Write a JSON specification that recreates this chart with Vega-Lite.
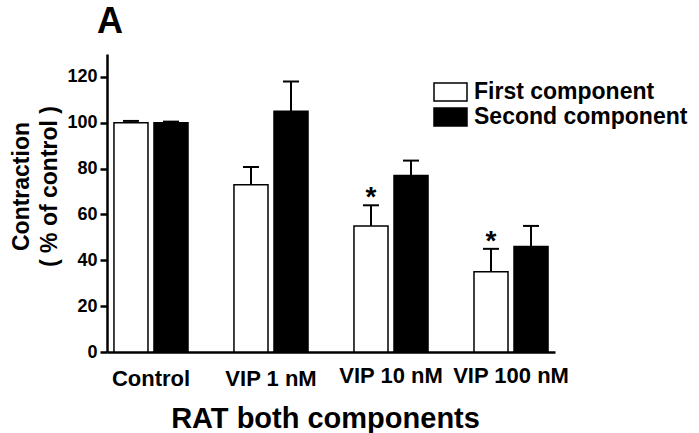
{
  "$schema": "https://vega.github.io/schema/vega-lite/v6.json",
  "width": 448,
  "height": 298,
  "autosize": {"type": "none"},
  "padding": {"left": 107, "top": 54, "right": 144, "bottom": 81},
  "background": "white",
  "config": {
    "font": "Liberation Sans",
    "view": {"stroke": null},
    "axisX": {
      "labelAngle": 0,
      "ticks": false,
      "domainWidth": 2.5,
      "domainColor": "black",
      "labelFontSize": 22,
      "labelFontWeight": "bold",
      "labelColor": "black",
      "titleFontSize": 29,
      "titleFontWeight": "bold",
      "titleColor": "black",
      "titlePadding": 15,
      "titleX": 218,
      "titleAlign": "center",
      "grid": false
    },
    "axisY": {
      "tickSize": 7,
      "tickWidth": 2.5,
      "tickColor": "black",
      "domainWidth": 2.5,
      "domainColor": "black",
      "labelFontSize": 18,
      "labelFontWeight": "bold",
      "labelColor": "black",
      "labelPadding": 3,
      "grid": false,
      "titleFontSize": 23,
      "titleFontWeight": "bold",
      "titleColor": "black",
      "titleX": -97,
      "titleY": 132,
      "titleBaseline": "top",
      "titleAlign": "center",
      "titleAngle": -90,
      "titleLineHeight": 28
    },
    "legend": {
      "orient": "none",
      "legendX": 326,
      "legendY": 27,
      "symbolType": "M-1,-0.55H1V0.55H-1Z",
      "symbolSize": 1089,
      "symbolStrokeColor": "black",
      "symbolStrokeWidth": 1.5,
      "labelFontSize": 23,
      "labelFontWeight": "bold",
      "labelColor": "black",
      "labelOffset": 6,
      "labelLimit": 400,
      "clipHeight": 22,
      "rowPadding": 2,
      "padding": 0
    }
  },
  "title": {"text": "A", "anchor": "start", "frame": "group", "fontSize": 36, "fontWeight": "bold", "color": "black", "dx": -10, "offset": -15, "baseline": "alphabetic"},
  "data": {
    "values": [
      {"group": "Control", "component": "First component", "value": 100, "upper": 100.8, "star": false},
      {"group": "Control", "component": "Second component", "value": 100, "upper": 100.5, "star": false},
      {"group": "VIP 1 nM", "component": "First component", "value": 73, "upper": 80.7, "star": false},
      {"group": "VIP 1 nM", "component": "Second component", "value": 105, "upper": 118, "star": false},
      {"group": "VIP 10 nM", "component": "First component", "value": 55, "upper": 64, "star": true},
      {"group": "VIP 10 nM", "component": "Second component", "value": 77, "upper": 83.5, "star": false},
      {"group": "VIP 100 nM", "component": "First component", "value": 35, "upper": 45, "star": true},
      {"group": "VIP 100 nM", "component": "Second component", "value": 46, "upper": 55, "star": false}
    ]
  },
  "encoding": {
    "x": {
      "field": "group",
      "type": "nominal",
      "sort": null,
      "title": "RAT both components",
      "scale": {"paddingInner": 0.383, "paddingOuter": 0.058},
      "axis": {"labelPadding": {"condition": {"test": "datum.value === 'VIP 10 nM' || datum.value === 'VIP 100 nM'", "value": 13}, "value": 16}}
    },
    "xOffset": {"field": "component", "type": "nominal", "scale": {"paddingInner": 0.15, "paddingOuter": 0}}
  },
  "layer": [
    {
      "mark": {"type": "rule", "stroke": "black", "strokeWidth": 2},
      "encoding": {
        "y": {"field": "value", "type": "quantitative", "scale": {"domain": [0, 130], "nice": false}, "title": ["Contraction", "( % of control )"], "axis": {"values": [0, 20, 40, 60, 80, 100, 120]}},
        "y2": {"field": "upper"}
      }
    },
    {
      "mark": {"type": "tick", "orient": "horizontal", "size": 16, "thickness": 2, "color": "black", "opacity": 1},
      "encoding": {
        "y": {"field": "upper", "type": "quantitative", "scale": {"domain": [0, 130], "nice": false}, "title": ["Contraction", "( % of control )"], "axis": {"values": [0, 20, 40, 60, 80, 100, 120]}}
      }
    },
    {
      "mark": {"type": "bar", "stroke": "black", "strokeWidth": 1.5, "opacity": 1},
      "encoding": {
        "y": {"field": "value", "type": "quantitative", "scale": {"domain": [0, 130], "nice": false}, "title": ["Contraction", "( % of control )"], "axis": {"values": [0, 20, 40, 60, 80, 100, 120]}},
        "fill": {"field": "component", "type": "nominal", "scale": {"range": ["white", "black"]}, "legend": {"title": null}}
      }
    },
    {
      "transform": [{"filter": "datum.star"}],
      "mark": {"type": "text", "text": "*", "fontSize": 28, "fontWeight": "bold", "baseline": "alphabetic", "dy": 1, "color": "black"},
      "encoding": {
        "y": {"field": "upper", "type": "quantitative", "scale": {"domain": [0, 130], "nice": false}, "title": ["Contraction", "( % of control )"], "axis": {"values": [0, 20, 40, 60, 80, 100, 120]}}
      }
    }
  ]
}
